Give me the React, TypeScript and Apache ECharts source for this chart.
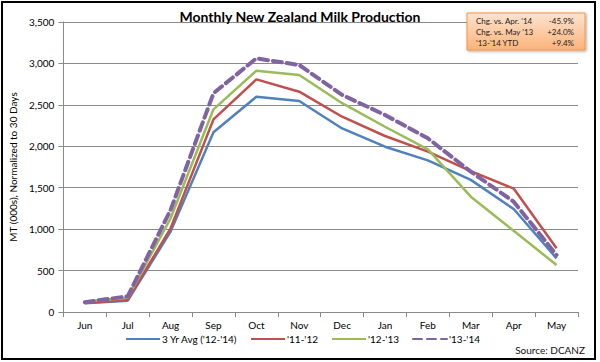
import React, { useEffect, useRef } from "react";
import * as echarts from "echarts";

const months = ["Jun", "Jul", "Aug", "Sep", "Oct", "Nov", "Dec", "Jan", "Feb", "Mar", "Apr", "May"];
const avg3yr = [105, 137, 970, 2170, 2598, 2546, 2215, 1995, 1830, 1595, 1243, 648];
const y1112 = [110, 145, 1010, 2325, 2808, 2659, 2357, 2124, 1935, 1700, 1490, 769];
const y1213 = [125, 173, 1131, 2446, 2913, 2860, 2520, 2236, 1963, 1392, 980, 567];
const y1314 = [118, 190, 1231, 2640, 3061, 2981, 2620, 2378, 2096, 1694, 1332, 688];
const seriesNames = ["3 Yr Avg ('12-'14)", "'11-'12", "'12-'13", "'13-'14"];
const boxRows = [
  ["Chg. vs. Apr. '14", "-45.9%"],
  ["Chg. vs. May '13", "+24.0%"],
  ["'13-'14 YTD", "+9.4%"],
];

const FONT = "Lato, 'Open Sans', sans-serif";

export default function App() {
  const ref = useRef<HTMLDivElement>(null);
  useEffect(() => {
    document.body.style.margin = "0";
    const chart = echarts.init(ref.current!, undefined, { renderer: "svg" });
    const colors = ["#4f81bd", "#c0504d", "#9bbb59", "#8064a2"];
    const data = [avg3yr, y1112, y1213, y1314];
    const legendX = [125, 250, 331, 412];
    const boxTexts: any[] = [];
    boxRows.forEach((r, i) => {
      boxTexts.push({
        type: "text",
        left: 476,
        top: 17 + i * 11,
        style: { text: r[0], font: `8px ${FONT}`, fill: "#222" },
      });
      boxTexts.push({
        type: "text",
        x: 574,
        y: 17 + i * 11,
        style: { text: r[1], font: `8px ${FONT}`, fill: "#222", textAlign: "right" },
      });
    });
    chart.setOption({
      animation: false,
      textStyle: { fontFamily: FONT },
      title: {
        text: "Monthly New Zealand Milk Production",
        left: "center",
        top: 4,
        textStyle: { fontSize: 14, fontWeight: "bold", color: "#000", fontFamily: FONT },
      },
      grid: { left: 55, right: 22, top: 22, bottom: 50 },
      legend: seriesNames.map((n, i) => ({
        data: [n],
        left: legendX[i],
        top: 334,
        itemWidth: 34,
        itemHeight: 10,
        itemGap: 0,
        itemStyle: { opacity: 0 },
        textStyle: { fontSize: 10, color: "#000", fontFamily: FONT, padding: [0, 0, 0, -3] },
        padding: 0,
      })),
      xAxis: {
        type: "category",
        data: months,
        boundaryGap: true,
        axisLine: { lineStyle: { color: "#8a8a8a" } },
        axisTick: { show: true, alignWithLabel: false, length: 5, lineStyle: { color: "#8a8a8a" } },
        axisLabel: { fontSize: 10, color: "#000", fontFamily: FONT, margin: 8 },
      },
      yAxis: {
        type: "value",
        min: 0,
        max: 3500,
        interval: 500,
        name: "MT (000s), Normalized to 30 Days",
        nameLocation: "middle",
        nameGap: 40,
        nameTextStyle: { fontSize: 10, color: "#000", fontFamily: FONT },
        axisLine: { show: true, lineStyle: { color: "#8a8a8a" } },
        axisTick: { show: true, length: 5, lineStyle: { color: "#8a8a8a" } },
        splitLine: { lineStyle: { color: "#8a8a8a", width: 1 } },
        axisLabel: {
          fontSize: 10,
          color: "#000",
          fontFamily: FONT,
          margin: 9,
          formatter: (v: number) => v.toLocaleString("en-US"),
        },
      },
      series: seriesNames.map((n, i) => ({
        name: n,
        type: "line",
        data: data[i],
        symbol: "none",
        color: colors[i],
        lineStyle: i === 3
          ? { color: colors[i], width: 4, type: [9, 5], cap: "round" }
          : { color: colors[i], width: 2.5 },
        z: 2 + i,
      })),
      graphic: [
        {
          type: "rect",
          shape: { x: 2, y: 2, width: 593, height: 357 },
          style: { fill: "none", stroke: "#000", lineWidth: 2 },
          silent: true,
        },
        {
          type: "rect",
          shape: { x: 467, y: 13, width: 118, height: 37 },
          style: {
            fill: new echarts.graphic.LinearGradient(0, 0, 0, 1, [
              { offset: 0, color: "#fde4d0" },
              { offset: 1, color: "#fbb37a" },
            ]),
            stroke: "#f79646",
            lineWidth: 1,
            shadowBlur: 3,
            shadowOffsetX: 1,
            shadowOffsetY: 1,
            shadowColor: "rgba(0,0,0,0.35)",
          },
          z: 10,
        },
        ...boxTexts.map((t) => ({ ...t, z: 11 })),
        {
          type: "text",
          x: 585,
          y: 345,
          style: {
            text: "Source: DCANZ",
            font: `10px ${FONT}`,
            fill: "#111",
            textAlign: "right",
          },
        },
      ],
    });
    return () => chart.dispose();
  }, []);
  return <div ref={ref} style={{ width: 600, height: 362 }} />;
}
